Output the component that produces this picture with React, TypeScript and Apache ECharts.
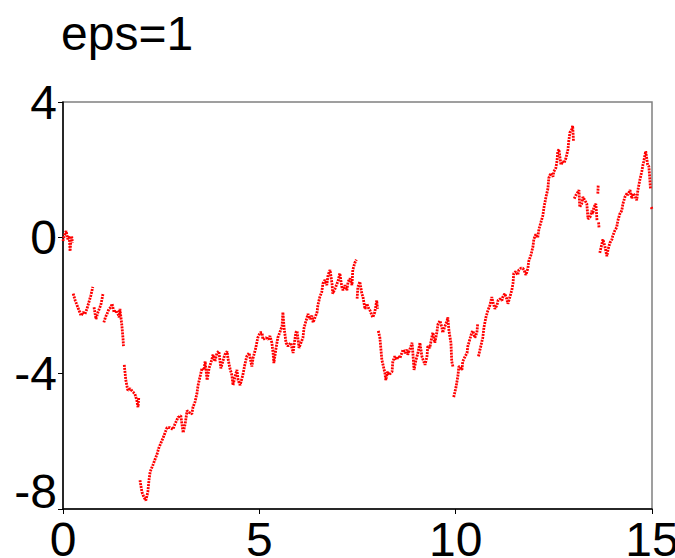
import React, { useEffect, useRef } from "react";
import * as echarts from "echarts";

// Sample path, split into continuous pieces; a break is drawn between pieces.
const seg01 = [[0.00,-0.10],[0.03,0.05],[0.08,0.20],[0.12,-0.05],[0.16,0.05],[0.18,-0.40],[0.20,-0.10],[0.22,0.05],[0.24,-0.15]];
const seg02 = [[0.26,-1.65],[0.31,-1.85],[0.36,-2.00],[0.41,-2.15],[0.46,-2.30],[0.51,-2.20],[0.56,-2.25],[0.61,-2.10],[0.66,-1.90],[0.71,-1.70],[0.76,-1.45]];
const seg03 = [[0.79,-2.05],[0.84,-2.40],[0.89,-2.20],[0.94,-2.05],[0.97,-1.95],[1.02,-1.65]];
const seg04 = [[1.04,-2.50],[1.08,-2.35],[1.12,-2.25],[1.17,-2.10],[1.22,-2.05],[1.25,-1.95],[1.30,-2.20],[1.37,-2.15],[1.43,-2.35],[1.45,-2.10],[1.50,-2.60],[1.53,-3.00],[1.54,-3.20]];
const seg05 = [[1.56,-3.75],[1.60,-4.20],[1.65,-4.50],[1.71,-4.45],[1.78,-4.55],[1.83,-4.60],[1.88,-4.80],[1.91,-5.00],[1.93,-4.70]];
const seg06 = [[1.96,-7.15],[2.01,-7.50],[2.06,-7.65],[2.11,-7.75],[2.16,-7.50],[2.19,-7.15],[2.22,-6.90],[2.29,-6.70],[2.34,-6.55],[2.39,-6.40],[2.44,-6.20],
  [2.55,-5.90],[2.65,-5.60],[2.72,-5.60],[2.80,-5.65],[2.85,-5.50],[2.93,-5.30],[3.00,-5.25],[3.06,-5.75],[3.11,-5.50],[3.16,-5.10],[3.21,-5.15],[3.28,-5.20],[3.31,-5.00],[3.36,-4.85],[3.41,-4.60],[3.44,-4.35],[3.49,-4.10],[3.54,-3.85],[3.59,-3.90],[3.62,-3.65],[3.67,-4.20],[3.72,-3.85],[3.79,-3.60],[3.82,-3.45],[3.87,-3.65],[3.92,-3.40],[3.97,-3.35],[4.02,-3.85],[4.07,-3.65],[4.12,-3.45],[4.18,-3.35],[4.20,-3.55],[4.25,-3.85],[4.30,-4.05],[4.33,-4.35],[4.38,-4.10],[4.43,-3.90],[4.46,-4.20],[4.51,-4.35],[4.58,-4.05],[4.63,-3.75],[4.68,-3.50],[4.74,-3.40],[4.81,-3.80],[4.84,-3.55],[4.91,-3.25],[4.96,-2.95],[5.02,-2.80],
  [5.07,-2.80],[5.09,-3.00],[5.17,-2.95],[5.22,-3.00],[5.27,-2.90],[5.32,-3.10],[5.35,-3.40],[5.37,-3.70],[5.42,-3.30],[5.47,-2.95],[5.52,-2.80],[5.58,-2.60],[5.60,-2.20],[5.63,-2.65],[5.68,-3.10],[5.73,-3.20],[5.80,-3.10],[5.86,-3.40],[5.88,-3.20],[5.93,-2.80],[5.96,-2.75],[6.01,-3.25],[6.06,-3.10],[6.11,-2.95],[6.14,-2.65],[6.19,-2.45],[6.24,-2.25],[6.29,-2.40],[6.34,-2.30],[6.37,-2.50],[6.42,-2.35],[6.47,-2.20],[6.49,-2.00],[6.54,-1.75],[6.59,-1.60],[6.62,-1.35],[6.67,-1.25],[6.72,-1.40],[6.75,-1.10],[6.80,-0.95],[6.85,-1.35],[6.87,-1.65],[6.93,-1.50],[6.98,-1.35],[7.00,-1.30],[7.05,-1.05],[7.10,-1.45],[7.13,-1.55],[7.18,-1.40],[7.23,-1.55],[7.26,-1.30],[7.31,-1.20],[7.36,-1.40],[7.38,-0.95],[7.43,-0.75],[7.47,-0.65]];
const seg07 = [[7.49,-1.80],[7.51,-1.45],[7.56,-1.30],[7.61,-1.65],[7.64,-1.75],[7.69,-2.10],[7.74,-1.95],[7.77,-2.05],[7.82,-2.15],[7.87,-2.30],[7.89,-2.35],[7.94,-2.20],[7.99,-1.85],[8.01,-2.10]];
const seg08 = [[8.03,-2.75],[8.07,-2.95],[8.12,-3.60],[8.15,-3.75],[8.20,-4.00],[8.22,-4.20],[8.27,-3.95],[8.30,-4.05],[8.38,-3.95],[8.40,-3.65],[8.45,-3.50],[8.50,-3.60],[8.53,-3.50],[8.58,-3.55],[8.63,-3.40],[8.66,-3.30],[8.71,-3.40],[8.76,-3.30],[8.78,-3.45],[8.83,-3.30],[8.89,-3.10],[8.91,-3.40],[8.94,-3.90],[8.99,-3.60],[9.04,-3.40],[9.09,-3.10],[9.14,-3.50],[9.17,-3.60],[9.22,-3.75],[9.27,-3.50],[9.29,-3.20],[9.34,-3.25],[9.39,-2.95],[9.42,-2.80],[9.47,-3.10],[9.52,-2.80],[9.55,-2.55],[9.60,-2.45],[9.65,-2.65],[9.67,-2.80],[9.73,-2.60],[9.78,-2.45],[9.80,-2.35],[9.83,-2.75],[9.88,-3.10],[9.90,-3.65],[9.93,-3.80]];
const seg09 = [[9.95,-4.70],[10.01,-4.40],[10.06,-4.05],[10.08,-3.80],[10.11,-3.80],[10.16,-3.90],[10.18,-3.65],[10.24,-3.50],[10.29,-3.40],[10.31,-3.20],[10.36,-3.00],[10.41,-2.80],[10.44,-2.75],[10.49,-2.95],[10.54,-2.80],[10.56,-2.55]];
const seg10 = [[10.58,-3.50],[10.64,-3.20],[10.69,-2.95],[10.72,-2.65],[10.77,-2.35],[10.82,-2.15],[10.87,-2.00],[10.92,-1.75],[10.95,-1.90],[11.00,-2.10],[11.05,-2.00],[11.08,-1.85],[11.13,-1.80],[11.18,-1.85],[11.20,-1.75],[11.25,-1.65],[11.30,-1.80],[11.33,-1.95],[11.38,-1.75],[11.43,-1.55],[11.46,-1.35],[11.48,-1.05],[11.53,-1.00],[11.58,-1.10],[11.61,-0.95],[11.66,-0.90],[11.71,-0.90],[11.74,-0.95],[11.79,-1.10],[11.84,-0.90],[11.86,-0.70],[11.92,-0.50],[11.97,-0.25],[11.99,-0.05],[12.04,0.10],[12.09,0.00],[12.12,0.25],[12.17,0.45],[12.22,0.65],[12.25,0.90],[12.30,1.20],[12.35,1.45],[12.37,1.75],[12.42,1.90],[12.48,1.80],[12.50,1.95],[12.55,2.05],[12.58,2.25],[12.60,2.55],[12.63,2.60],[12.68,2.15],[12.73,2.25],[12.76,2.20],[12.81,2.35],[12.86,2.60],[12.88,2.85],[12.91,3.10],[12.96,3.20],[12.98,3.30],[13.00,2.85]];
const seg11 = [[13.02,1.15],[13.06,1.25],[13.09,1.30],[13.14,1.40],[13.16,0.90],[13.21,1.00],[13.24,1.20],[13.29,1.10],[13.34,1.00],[13.37,0.55],[13.42,0.60],[13.47,0.80],[13.49,0.70],[13.52,0.90],[13.57,1.00],[13.60,0.50]];
const seg12 = [[13.62,1.30],[13.63,1.55]];
const seg13 = [[13.64,0.45],[13.65,0.30]];
const seg14 = [[13.67,-0.45],[13.72,-0.20],[13.75,-0.05],[13.80,-0.25],[13.85,-0.55],[13.88,-0.35],[13.93,-0.15],[13.98,-0.05],[14.00,0.05],[14.05,0.20],[14.10,0.30],[14.13,0.50],[14.18,0.70],[14.23,0.80],[14.26,1.00],[14.31,1.20],[14.36,1.30],[14.38,1.25],[14.44,1.40],[14.49,1.15],[14.51,1.30],[14.56,1.25],[14.61,1.10],[14.64,1.40],[14.69,1.70],[14.74,1.95],[14.77,2.15],[14.79,2.25],[14.84,2.55],[14.89,2.15],[14.92,2.10],[14.94,1.80],[14.96,1.45]];
const seg15 = [[14.98,0.90],[15.00,0.85]];

const segments = [seg01, seg02, seg03, seg04, seg05, seg06, seg07, seg08, seg09, seg10, seg11, seg12, seg13, seg14, seg15];

const xTicks = [0, 5, 10, 15];
const yTicks = [-8, -4, 0, 4];
const titleText = "eps=1";

const FONT = "Liberation Sans, Arial, Helvetica, sans-serif";

export default function App() {
  const ref = useRef<HTMLDivElement>(null);

  useEffect(() => {
    if (!ref.current) return;
    const chart = echarts.init(ref.current, undefined, { renderer: "svg" });

    // join the pieces with an empty point so the line breaks at each jump
    const pathData: any[] = [];
    segments.forEach((seg, i) => {
      if (i > 0) pathData.push([seg[0][0], "-"]);
      seg.forEach((p) => pathData.push(p));
    });

    chart.setOption({
      animation: false,
      backgroundColor: "#ffffff",
      title: {
        text: titleText,
        left: 61,
        top: 9,
        padding: 0,
        textStyle: { fontFamily: FONT, fontSize: 48, fontWeight: "normal", color: "#000" },
      },
      grid: {
        left: 63,
        top: 102,
        width: 589,
        height: 407,
        outerBoundsMode: "none",
        containLabel: false,
        show: true,
        borderColor: "#808080",
        borderWidth: 1.5,
        backgroundColor: "#ffffff",
      },
      xAxis: {
        type: "value",
        min: xTicks[0],
        max: xTicks[xTicks.length - 1],
        interval: 5,
        axisLine: { show: true, onZero: false, lineStyle: { color: "#000", width: 1.5 } },
        axisTick: { show: true, inside: false, length: 5, lineStyle: { color: "#000", width: 1 } },
        axisLabel: { fontFamily: FONT, fontSize: 48, color: "#000", margin: 6, hideOverlap: false },
        splitLine: { show: false },
      },
      yAxis: {
        type: "value",
        min: yTicks[0],
        max: yTicks[yTicks.length - 1],
        interval: 4,
        axisLine: { show: true, onZero: false, lineStyle: { color: "#000", width: 1.5 } },
        axisTick: { show: true, inside: false, length: 5, lineStyle: { color: "#000", width: 1 } },
        axisLabel: {
          fontFamily: FONT,
          fontSize: 48,
          color: "#000",
          margin: 6,
          hideOverlap: false,
          // the lowest label sits a little above its tick, clear of the x labels
          formatter: (v: number) => (v === yTicks[0] ? `{low|${v}}` : `${v}`),
          rich: {
            low: { fontFamily: FONT, fontSize: 48, color: "#000", padding: [0, 0, 36, 0] },
          },
        },
        splitLine: { show: false },
      },
      series: [
        {
          type: "line",
          data: pathData,
          showSymbol: false,
          connectNulls: false,
          clip: true,
          lineStyle: { color: "#ff0000", width: 2.8, type: [2, 1] },
        },
      ],
    });

    return () => chart.dispose();
  }, []);

  return (
    <div
      ref={ref}
      style={{ position: "absolute", left: 0, top: 0, width: 675, height: 558 }}
    />
  );
}
